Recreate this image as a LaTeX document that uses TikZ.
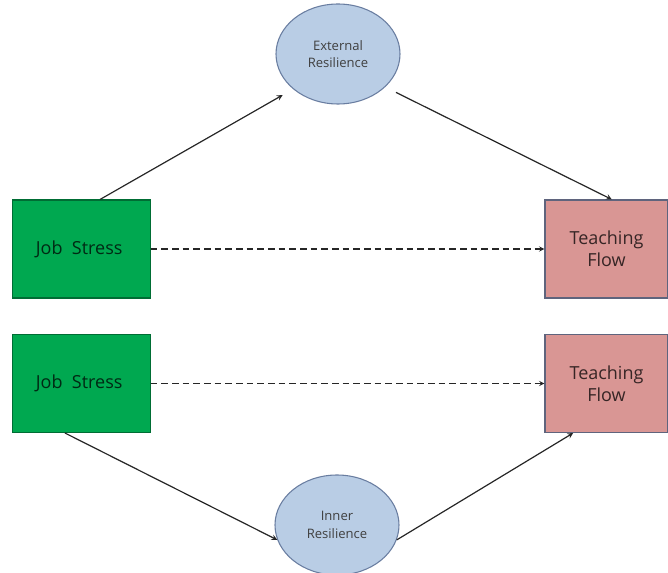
\documentclass[tikz,border=0pt]{standalone}
\usepackage{fontspec}
\setmainfont{Open Sans}
\usetikzlibrary{arrows,shapes}
\usepackage{xcolor}

\definecolor{stressgreen}{RGB}{0,168,80}
\definecolor{flowpink}{RGB}{217,150,148}
\definecolor{resblue}{RGB}{185,205,229}
\definecolor{resedge}{RGB}{105,125,160}
\definecolor{flowedge}{RGB}{95,100,125}

\begin{document}
\begin{tikzpicture}[x=0.75pt, y=-0.75pt,
    every node/.style={
    rectangle,
    inner sep=0pt,
    draw,
    line width=0.8pt,
    align=center
},
    stressbox/.style={fill=stressgreen, draw=stressgreen!65!black,
        text=stressgreen!25!black, minimum width=103pt, minimum height=73.5pt,
        font=\fontsize{13.5}{16.5}\selectfont},
    flowbox/.style={fill=flowpink, draw=flowedge,
        text=flowpink!25!black, minimum width=92.25pt, minimum height=73.5pt,
        font=\fontsize{13.5}{16.5}\selectfont},
    resellipse/.style={ellipse, fill=resblue, draw=resedge,
        text=black!75, minimum width=93pt, minimum height=75pt,
        font=\fontsize{9.8}{13}\selectfont},
    linkarrow/.style={-stealth, black!85, line width=0.9pt},
    directarrow/.style={-stealth, black!85, line width=0.8pt, dash pattern=on 5pt off 3pt}
]
    \useasboundingbox (0,0) rectangle (668,573);

    %top model
    \node (job_stress_top) [stressbox, shift={(81.5,249)}]
    {
        Job~~Stress
    };
    \node (external_resilience) [resellipse, shift={(338,54)}]
    {
        External\\Resilience
    };
    \node (teaching_flow_top) [flowbox, shift={(606.5,249)}]
    {
        Teaching\\Flow
    };

    %bottom model
    \node (job_stress_bottom) [stressbox, shift={(81.5,383.5)}]
    {
        Job~~Stress
    };
    \node (inner_resilience) [resellipse, shift={(337,525)}]
    {
        Inner\\Resilience
    };
    \node (teaching_flow_bottom) [flowbox, shift={(606.5,383.5)}]
    {
        Teaching\\Flow
    };

    \draw[linkarrow, shorten >=9pt] ([xshift=13.9pt]job_stress_top.north) to (external_resilience.218);
    \draw[linkarrow, shorten <=9pt] (external_resilience.325) to ([xshift=4pt]teaching_flow_top.north);
    \draw[directarrow] (job_stress_top) to (teaching_flow_top);

    \draw[linkarrow] ([xshift=-12.4pt]job_stress_bottom.south) to (inner_resilience.194);
    \draw[linkarrow] (inner_resilience.346) to ([xshift=-25pt]teaching_flow_bottom.south);
    \draw[directarrow] (job_stress_bottom) to (teaching_flow_bottom);

\end{tikzpicture}
\end{document}
